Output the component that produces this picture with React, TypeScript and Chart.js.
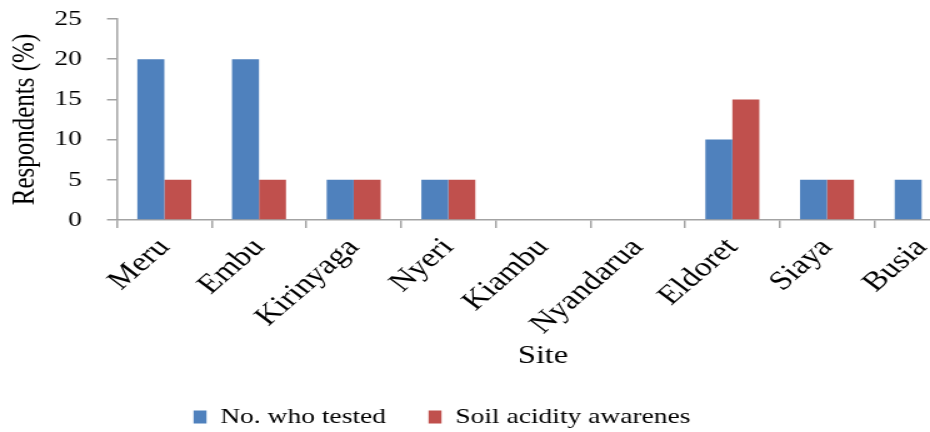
import React, { useEffect, useRef } from "react";
import Chart from "chart.js/auto";

const categories = ["Meru", "Embu", "Kirinyaga", "Nyeri", "Kiambu", "Nyandarua", "Eldoret", "Siaya", "Busia"];
const testedValues = [20, 20, 5, 5, 0, 0, 10, 5, 5];
const awarenessValues = [5, 5, 5, 5, 0, 0, 15, 5, 0];
const yTicks = [0, 5, 10, 15, 20, 25];
const seriesNames = ["No. who tested", "Soil acidity awarenes"];

const SX = 1.25; // horizontal stretch of the reference picture
const CANVAS_W = 780;
const CANVAS_H = 432;
const FONT = "'Liberation Serif', 'Times New Roman', serif";
const AXIS = "#a3a3a3";

export default function App() {
  const ref = useRef<HTMLCanvasElement | null>(null);

  useEffect(() => {
    if (!ref.current) return;
    const legendShift = {
      id: "legendShift",
      afterLayout(chart: any) {
        const lg = chart.legend;
        if (!lg) return;
        const targetX = 442 / SX;
        const dx = targetX - (lg.left + lg.right) / 2;
        lg.left += dx;
        lg.right += dx;
        const top = 417 - 34 - 11;
        lg.top = top;
        lg.bottom = CANVAS_H;
      },
    };
    const chart = new Chart(ref.current, {
      type: "bar",
      data: {
        labels: categories,
        datasets: [
          { label: seriesNames[0], data: testedValues, backgroundColor: "#4F81BD", borderWidth: 0 },
          { label: seriesNames[1], data: awarenessValues, backgroundColor: "#C0504D", borderWidth: 0 },
        ],
      },
      options: {
        responsive: false,
        maintainAspectRatio: false,
        devicePixelRatio: 1,
        animation: false,
        layout: { padding: { left: 0, right: CANVAS_W - 969 / SX, top: 19, bottom: 0 } },
        datasets: { bar: { categoryPercentage: 0.57, barPercentage: 1.0 } },
        plugins: {
          tooltip: { enabled: false },
          legend: {
            position: "bottom",
            maxHeight: 50,
            labels: {
              color: "#000",
              font: { family: FONT, size: 22 },
              boxWidth: 13 / SX,
              boxHeight: 13,
              padding: 34,
            },
          },
        },
        scales: {
          x: {
            grid: {
              display: true,
              drawOnChartArea: false,
              drawTicks: true,
              tickLength: 8,
              color: AXIS,
              lineWidth: 1.5,
              offset: true,
            },
            border: { display: true, color: AXIS, width: 1.5 },
            ticks: {
              color: "#000",
              font: { family: FONT, size: 27 },
              minRotation: 47,
              maxRotation: 47,
              autoSkip: false,
              padding: 4,
            },
            title: {
              display: true,
              text: "Site",
              color: "#000",
              font: { family: FONT, size: 26 },
              padding: { top: 0, bottom: 10 },
            },
            afterFit(scale: any) {
              scale.height = CANVAS_H - 50 - 220;
              scale.paddingLeft = 0;
              scale.paddingRight = 0;
            },
          },
          y: {
            min: 0,
            max: 25,
            afterBuildTicks(scale: any) {
              scale.ticks = yTicks.map((v) => ({ value: v }));
            },
            grid: {
              display: true,
              drawOnChartArea: false,
              drawTicks: true,
              tickLength: 8,
              color: AXIS,
              lineWidth: 1.5,
            },
            border: { display: true, color: AXIS, width: 1.5 },
            ticks: {
              color: "#000",
              font: { family: FONT, size: 22 },
              padding: 20,
            },
            title: {
              display: true,
              text: "Respondents (%)",
              color: "#000",
              font: { family: FONT, size: 25 },
              padding: { top: 5, bottom: 0 },
            },
            afterFit(scale: any) {
              scale.width = 117 / SX;
              scale.paddingTop = 0;
              scale.paddingBottom = 0;
            },
          },
        },
      },
      plugins: [legendShift],
    });
    return () => chart.destroy();
  }, []);

  return (
    <div
      style={{
        position: "fixed",
        left: 0,
        top: 0,
        width: 930,
        height: 432,
        overflow: "hidden",
        background: "#fff",
      }}
    >
      <canvas
        ref={ref}
        width={CANVAS_W}
        height={CANVAS_H}
        style={{ width: `${CANVAS_W * SX}px`, height: `${CANVAS_H}px`, display: "block" }}
      />
    </div>
  );
}
